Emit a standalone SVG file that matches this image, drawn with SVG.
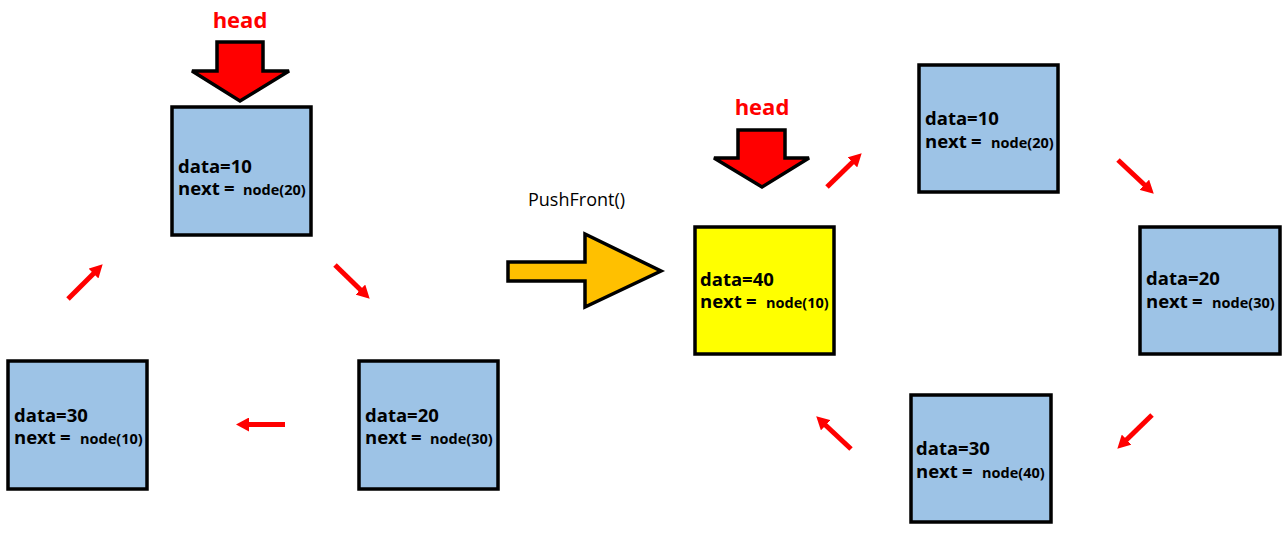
<svg xmlns="http://www.w3.org/2000/svg" width="1287" height="545" viewBox="0 0 1287 545">
<style>
.node{fill:#9DC3E6;stroke:#000;stroke-width:3.5}
.new{fill:#FFFF00;stroke:#000;stroke-width:3.5}
.t{font-family:"Open Sans","Noto Sans",sans-serif;font-weight:bold;font-size:18.5px;fill:#000}
.s{font-size:14.5px}
.head{font-family:"Open Sans","Noto Sans",sans-serif;font-weight:bold;font-size:22px;fill:#FF0000;text-anchor:middle}
.harrow{fill:#FF0000;stroke:#000;stroke-width:3.5;stroke-linejoin:miter;stroke-miterlimit:3}
.link{stroke:#FF0000;stroke-width:5;fill:none;marker-end:url(#ah)}
</style>
<defs>
<marker id="ah" markerUnits="userSpaceOnUse" viewBox="0 0 13 14" refX="3" refY="7" markerWidth="13" markerHeight="14" orient="auto">
<path d="M0,0 L13,7 L0,14 z" fill="#FF0000"/>
</marker>
</defs>
<rect width="1287" height="545" fill="#fff"/>

<g id="head-left">
<text class="head" x="240" y="28">head</text>
<polygon class="harrow" points="217,42 263,42 263,71 289,71 240,101 192,71 217,71"/>
</g>
<g id="node-left-10">
<rect class="node" x="172" y="107" width="139" height="128"/>
<text class="t" x="178" y="173">data=10</text>
<text class="t" x="178" y="195">next<tspan x="224">=</tspan><tspan class="s" x="243">node(20)</tspan></text>
</g>
<g id="node-left-20">
<rect class="node" x="359" y="361" width="139" height="128"/>
<text class="t" x="365" y="422">data=20</text>
<text class="t" x="365" y="444">next<tspan x="411">=</tspan><tspan class="s" x="430">node(30)</tspan></text>
</g>
<g id="node-left-30">
<rect class="node" x="8" y="361" width="139" height="128"/>
<text class="t" x="14" y="422">data=30</text>
<text class="t" x="14" y="444">next<tspan x="60">=</tspan><tspan class="s" x="80">node(10)</tspan></text>
</g>

<g id="pushfront">
<text x="528" y="206" font-family="'Open Sans','Noto Sans',sans-serif" font-size="18" fill="#000">PushFront()</text>
<polygon points="508,262 585,262 585,234 661,271 585,307 585,281 508,281" fill="#FFC000" stroke="#000" stroke-width="3.5"/>
</g>

<g id="head-right">
<text class="head" x="762" y="115">head</text>
<polygon class="harrow" points="738,130 785,130 785,158 809,158 762,187 714,158 738,158"/>
</g>
<g id="node-right-40">
<rect class="new" x="695" y="227" width="139" height="127"/>
<text class="t" x="700" y="286">data=40</text>
<text class="t" x="700" y="308">next<tspan x="746">=</tspan><tspan class="s" x="766">node(10)</tspan></text>
</g>
<g id="node-right-10">
<rect class="node" x="919" y="65" width="139" height="127"/>
<text class="t" x="925" y="125">data=10</text>
<text class="t" x="925" y="148">next<tspan x="971">=</tspan><tspan class="s" x="991">node(20)</tspan></text>
</g>
<g id="node-right-20">
<rect class="node" x="1140" y="227" width="140" height="127"/>
<text class="t" x="1146" y="285">data=20</text>
<text class="t" x="1146" y="308">next<tspan x="1192">=</tspan><tspan class="s" x="1212">node(30)</tspan></text>
</g>
<g id="node-right-30">
<rect class="node" x="911" y="395" width="140" height="127"/>
<text class="t" x="916" y="455">data=30</text>
<text class="t" x="916" y="478">next<tspan x="962">=</tspan><tspan class="s" x="982">node(40)</tspan></text>
</g>

<g id="connectors">
<line class="link" x1="68" y1="299" x2="95.6" y2="271.4"/>
<line class="link" x1="335" y1="265" x2="362.5" y2="291.7"/>
<line class="link" x1="285" y1="424.5" x2="246" y2="424.5"/>
<line class="link" x1="827" y1="187" x2="854.5" y2="160.3"/>
<line class="link" x1="1118" y1="160" x2="1146.5" y2="186.8"/>
<line class="link" x1="1152" y1="415" x2="1124.5" y2="441.7"/>
<line class="link" x1="851" y1="449" x2="823.5" y2="423.2"/>
</g>
</svg>
